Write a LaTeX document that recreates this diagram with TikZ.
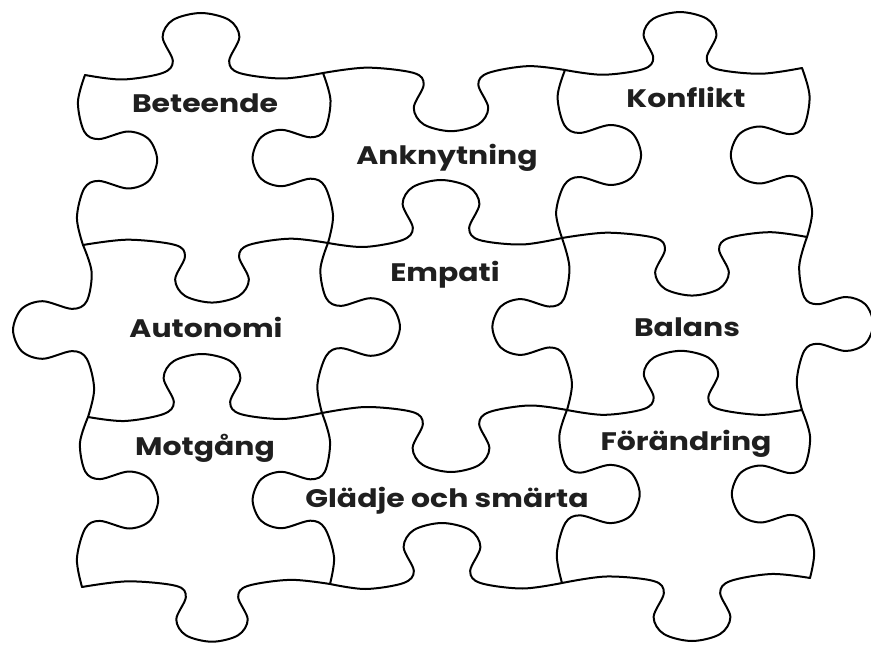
\documentclass[tikz,border=0pt]{standalone}
\usepackage{fontspec}
\setmainfont{Poppins}[FakeStretch=1.18]
\def\kKx{1.28}
\def\kBw{5}
\newcommand\hknob[8]{%
  \pgfmathsetmacro\kUa{(#1-(#5))/(\kKx*#8)}%
  \pgfmathsetmacro\kVa{(#2-(#6))/(-(#7)*#8)}%
  \pgfmathsetmacro\kUb{(#3-(#5))/(\kKx*#8)}%
  \pgfmathsetmacro\kVb{(#4-(#6))/(-(#7)*#8)}%
  \pgfmathsetmacro\kMa{(\kUa-32)/2}%
  \pgfmathsetmacro\kMb{(\kUb+32)/2}%
  \pgfmathsetmacro\kPa{\kVa/2-\kBw}%
  \pgfmathsetmacro\kPb{\kVb/2-\kBw}%
  \pgfmathsetmacro\kSx{\kKx*#8}%
  \pgfmathsetmacro\kSy{-(#7)*#8}%
  \begin{scope}[shift={(#5,#6)},xscale=\kSx,yscale=\kSy]
    \draw[edge] plot[smooth,tension=.55] coordinates {(\kUa,\kVa) (\kMa,\kPa) (-30,1) (-22,13) (-30,37) (-22,54) (0,61) (22,54) (30,37) (22,13) (30,1) (\kMb,\kPb) (\kUb,\kVb)};
  \end{scope}}
\newcommand\vknob[8]{%
  \pgfmathsetmacro\kUa{(#2-(#6))/#8}%
  \pgfmathsetmacro\kVa{(#1-(#5))/((#7)*\kKx*#8)}%
  \pgfmathsetmacro\kUb{(#4-(#6))/#8}%
  \pgfmathsetmacro\kVb{(#3-(#5))/((#7)*\kKx*#8)}%
  \pgfmathsetmacro\kMa{(\kUa-32)/2}%
  \pgfmathsetmacro\kMb{(\kUb+32)/2}%
  \pgfmathsetmacro\kPa{\kVa/2-\kBw}%
  \pgfmathsetmacro\kPb{\kVb/2-\kBw}%
  \pgfmathsetmacro\kCc{-(#7)*\kKx*#8}%
  \pgfmathsetmacro\kBb{-#8}%
  \begin{scope}[cm={0,\kBb,\kCc,0,(#5,#6)}]
    \draw[edge] plot[smooth,tension=.55] coordinates {(\kUa,\kVa) (\kMa,\kPa) (-30,1) (-22,13) (-30,37) (-22,54) (0,61) (22,54) (30,37) (22,13) (30,1) (\kMb,\kPb) (\kUb,\kVb)};
  \end{scope}}
\begin{document}
\begin{tikzpicture}[x=0.75pt,y=-0.75pt,
  edge/.style={line width=1.5pt,line join=round,line cap=round,black},
  lab/.style={font=\bfseries\fontsize{19}{22}\selectfont,inner sep=0pt,anchor=base,text=black!88}]
\useasboundingbox (0,0) rectangle (871,645);
% outer top
\hknob{85}{75}{323}{73}{201}{74}{1}{1}
\hknob{323}{73}{565}{70}{451}{72}{-1}{0.97}
\hknob{565}{70}{802}{68}{680}{70}{1}{0.95}
% outer right
\vknob{802}{68}{807}{237}{805}{155}{-1}{0.95}
\vknob{807}{237}{802}{410}{803}{324}{1}{0.9}
\vknob{802}{410}{810}{578}{806}{494}{-1}{0.95}
% outer bottom
\hknob{562}{583}{810}{578}{692}{580}{-1}{1}
\hknob{330}{584}{562}{583}{442}{584}{1}{1}
\hknob{82}{587}{330}{584}{212}{585}{-1}{0.93}
% outer left
\vknob{88}{417}{82}{587}{84}{500}{1}{0.95}
\vknob{83}{245}{88}{417}{88}{330}{-1}{0.96}
\vknob{85}{75}{83}{245}{83}{160}{1}{0.95}
% inner vertical
\vknob{323}{73}{328}{243}{326}{158}{-1}{0.94}
\vknob{565}{70}{562}{238}{563}{155}{1}{1}
\vknob{328}{243}{322}{413}{325}{327}{1}{0.96}
\vknob{562}{238}{567}{410}{565}{327}{-1}{0.93}
\vknob{322}{413}{330}{584}{326}{500}{-1}{0.94}
\vknob{567}{410}{562}{583}{564}{494}{1}{0.97}
% inner horizontal
\hknob{83}{245}{328}{243}{212}{244}{-1}{0.96}
\hknob{328}{243}{562}{238}{441}{241}{1}{1}
\hknob{562}{238}{807}{237}{692}{237}{-1}{0.96}
\hknob{88}{417}{322}{413}{202}{415}{1}{1}
\hknob{322}{413}{567}{410}{451}{411}{-1}{1}
\hknob{567}{410}{802}{410}{681}{410}{1}{0.97}
% labels
\node[lab] (beteende) at (205,113) {Beteende};
\node[lab] (anknytning) at (447,165) {Anknytning};
\node[lab] (konflikt) at (686,108) {Konflikt};
\node[lab] (empati) at (445,282) {Empati};
\node[lab] (autonomi) at (206,338) {Autonomi};
\node[lab] (balans) at (687,336) {Balans};
\node[lab] (motgang) at (205,455) {Motgång};
\node[lab] (forandring) at (686,450) {Förändring};
\node[lab] (gladje) at (447,507) {Glädje och smärta};
\end{tikzpicture}
\end{document}
